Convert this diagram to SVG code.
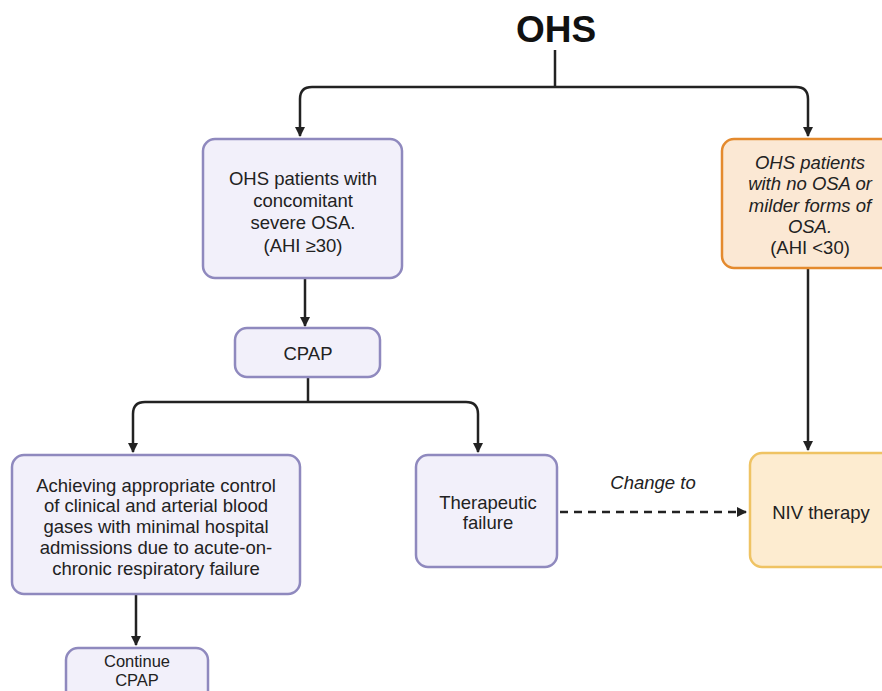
<svg xmlns="http://www.w3.org/2000/svg" width="882" height="691" viewBox="0 0 882 691">
<defs>
<marker id="ah" markerWidth="10" markerHeight="10" refX="9" refY="5" orient="auto" markerUnits="userSpaceOnUse">
<path d="M0,0 L10,5 L0,10 z" fill="#222"/>
</marker>
<style>
.p{fill:#f2f0fa;stroke:#8f89be;stroke-width:2.5}
.o{fill:#fbe8d4;stroke:#e48a2e;stroke-width:2.5}
.y{fill:#fdecd0;stroke:#efc363;stroke-width:2.5}
.t{font-family:"Liberation Sans",Arial,sans-serif;font-size:18.5px;fill:#222;text-anchor:middle}
.s{font-size:16.5px}
.i{font-style:italic}
.c{fill:none;stroke:#222;stroke-width:2.5}
</style>
</defs>
<rect width="882" height="691" fill="#fff"/>
<text x="556" y="42" font-family="Liberation Sans,Arial,sans-serif" font-size="37" font-weight="bold" text-anchor="middle" fill="#111">OHS</text>
<g id="connectors">
<path class="c" d="M555,50 V87"/>
<path class="c" d="M555,87 H312 Q300,87 300,99 V136" marker-end="url(#ah)"/>
<path class="c" d="M555,87 H796 Q808,87 808,99 V136" marker-end="url(#ah)"/>
<path class="c" d="M305,279 V326" marker-end="url(#ah)"/>
<path class="c" d="M308,378 V402"/>
<path class="c" d="M308,402 H145 Q133,402 133,414 V452" marker-end="url(#ah)"/>
<path class="c" d="M308,402 H466 Q478,402 478,414 V452" marker-end="url(#ah)"/>
<path class="c" d="M808,269 V450" marker-end="url(#ah)"/>
<path class="c" d="M136,595 V645" marker-end="url(#ah)"/>
<path class="c" d="M560,512 H746" stroke-dasharray="8,6" marker-end="url(#ah)"/>
<text class="t i" x="653" y="489">Change to</text>
</g>
<g id="n-severe">
<rect class="p" x="203" y="139" width="199" height="139" rx="12"/>
<text class="t" x="303" y="185">OHS patients with</text>
<text class="t" x="303" y="207">concomitant</text>
<text class="t" x="303" y="229">severe OSA.</text>
<text class="t" x="303" y="252">(AHI ≥30)</text>
</g>
<g id="n-mild">
<rect class="o" x="722" y="139" width="175" height="129" rx="12"/>
<text class="t i" x="810" y="169">OHS patients</text>
<text class="t i" x="810" y="190">with no OSA or</text>
<text class="t i" x="810" y="212">milder forms of</text>
<text class="t i" x="810" y="233">OSA.</text>
<text class="t" x="810" y="254">(AHI &lt;30)</text>
</g>
<g id="n-cpap">
<rect class="p" x="235" y="328" width="145" height="49" rx="12"/>
<text class="t" x="308" y="360">CPAP</text>
</g>
<g id="n-control">
<rect class="p" x="12" y="455" width="288" height="139" rx="12"/>
<text class="t" x="156" y="492">Achieving appropriate control</text>
<text class="t" x="156" y="512">of clinical and arterial blood</text>
<text class="t" x="156" y="533">gases with minimal hospital</text>
<text class="t" x="156" y="554">admissions due to acute-on-</text>
<text class="t" x="156" y="575">chronic respiratory failure</text>
</g>
<g id="n-failure">
<rect class="p" x="416" y="455" width="141" height="112" rx="12"/>
<text class="t" x="488" y="509">Therapeutic</text>
<text class="t" x="488" y="529">failure</text>
</g>
<g id="n-niv">
<rect class="y" x="750" y="453" width="145" height="114" rx="12"/>
<text class="t" x="821" y="519">NIV therapy</text>
</g>
<g id="n-continue">
<rect class="p" x="66" y="648" width="142" height="60" rx="12"/>
<text class="t s" x="137" y="667">Continue</text>
<text class="t s" x="137" y="686">CPAP</text>
</g>
</svg>
